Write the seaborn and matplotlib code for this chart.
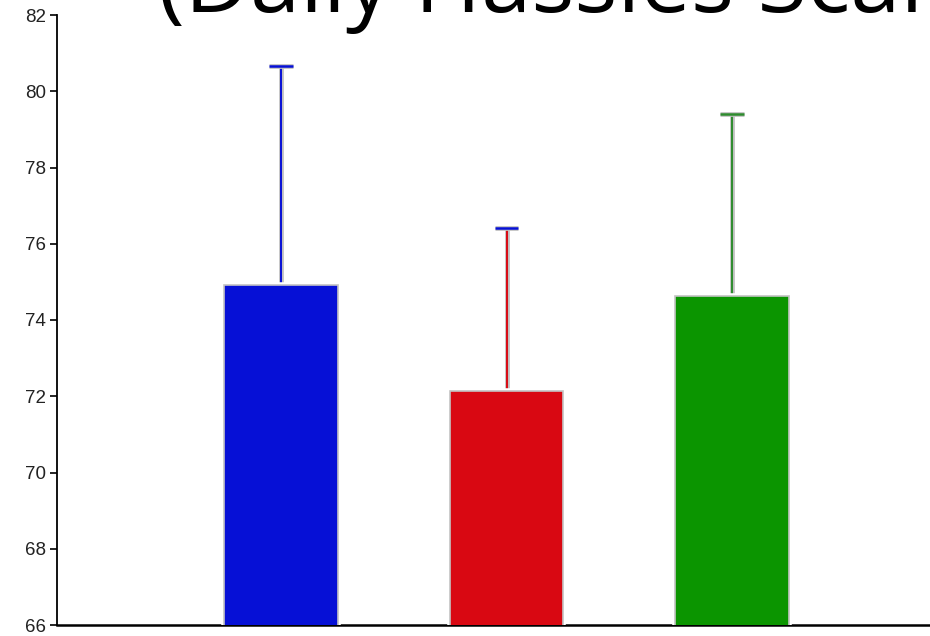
import numpy as np
import pandas as pd
import matplotlib
matplotlib.use("Agg")
import matplotlib.pyplot as plt
import matplotlib.patheffects as pe
import seaborn as sns

# Group means and standard deviations
groups = ["Group 1", "Group 2", "Group 3"]
means = [74.92, 72.14, 74.63]
sds = [5.75, 4.28, 4.78]
bar_colors = ["#0610d6", "#d90812", "#0b9500"]
line_colors = ["#0610d6", "#d90812", "#2e8b2e"]
cap_colors = ["#0610d6", "#0610d6", "#2e8b2e"]
yticks = [66, 68, 70, 72, 74, 76, 78, 80, 82]
title = "(Daily Hassles Scale)"

sns.set_style("ticks")
plt.rcParams["font.family"] = ["Liberation Sans", "DejaVu Sans"]

W, H = 930, 636
fig = plt.figure(figsize=(W / 100, H / 100), dpi=100)

unit = 225.5
left_px, bottom_px, top_px = 57, 625, 15
xmin, xmax = -(281 - left_px) / unit, 3.0
ax = fig.add_axes([left_px / W, (H - bottom_px) / H,
                   (xmax - xmin) * unit / W, (bottom_px - top_px) / H])

df = pd.DataFrame({"group": groups, "mean": means})
sns.barplot(data=df, x="group", y="mean", hue="group", palette=bar_colors,
            saturation=1, width=0.505, legend=False, ax=ax, zorder=3,
            edgecolor="#c4c4c4", linewidth=1.2)
for p in ax.patches:
    p.set_path_effects([pe.Stroke(linewidth=4, foreground="white"), pe.Normal()])

halo = [pe.Stroke(linewidth=3.4, foreground="#c0c0c0"), pe.Normal()]
for i, (m, s) in enumerate(zip(means, sds)):
    ax.plot([i, i], [m, m + s], color=line_colors[i], lw=1.4, zorder=2.8,
            path_effects=halo, solid_capstyle="butt")
    ax.plot([i - 0.053, i + 0.053], [m + s, m + s], color=cap_colors[i], lw=1.8,
            zorder=2.8, path_effects=halo, solid_capstyle="butt")

ax.set_ylim(66, 82)
ax.set_xlim(xmin, xmax)
ax.set_yticks(yticks)
ax.set_yticklabels([str(v) for v in yticks], fontsize=13.5, color="#222222")
ax.set_xticks([])
ax.set_xlabel("")
ax.set_ylabel("")
ax.tick_params(axis="y", direction="out", length=5, width=1.2, color="black", pad=3)
for side in ["top", "right"]:
    ax.spines[side].set_visible(False)
ax.spines["left"].set_color("black")
ax.spines["left"].set_linewidth(1.3)
ax.spines["bottom"].set_color("black")
ax.spines["bottom"].set_linewidth(1.8)

fig.text(158 / W, (H - 12) / H, title, fontsize=65, family="Open Sans",
         color="black", ha="left", va="baseline")

fig.savefig("out.png", dpi=100, facecolor="white")
